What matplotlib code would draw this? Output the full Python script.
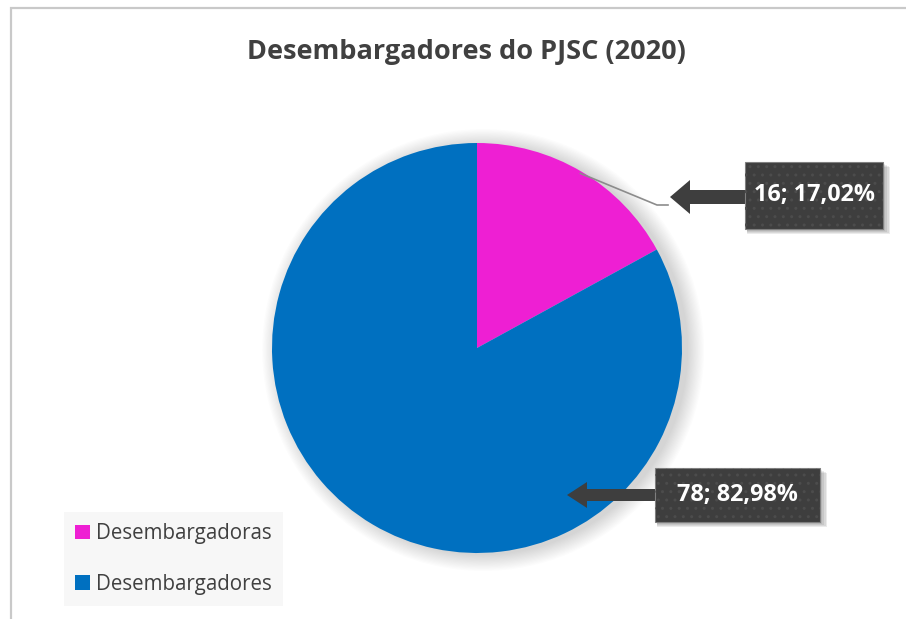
import numpy as np
import matplotlib
matplotlib.use("Agg")
import matplotlib.pyplot as plt
from matplotlib.patches import Rectangle, Polygon, Circle, Patch

# data
categories = ["Desembargadoras", "Desembargadores"]
counts = [16, 78]
percent_labels = ["16; 17,02%", "78; 82,98%"]
colors = ["#EE1FD3", "#0070C0"]
title = "Desembargadores do PJSC (2020)"

W, H = 906, 619
fig = plt.figure(figsize=(W / 100, H / 100), dpi=100)
fig.patch.set_facecolor("white")

# chart frame (only top/left edges visible)
fig.add_artist(Rectangle((11 / W, -0.1), 1.2, 1 - 8 / H + 0.1,
                         transform=fig.transFigure, facecolor="white",
                         edgecolor="#C9C9C9", linewidth=1.6, zorder=-5))

# pie axes: center (477, 348) px, radius 205 px
cx, cy, r = 477, 348, 205
ax = fig.add_axes([(cx - r) / W, (H - cy - r) / H, 2 * r / W, 2 * r / H])
ax.patch.set_visible(False)

# soft shadow behind the pie
for i in range(14):
    ax.add_patch(Circle((0.03, -0.01), 1.0 + i * 0.006, facecolor="black",
                        alpha=0.012, edgecolor="none", zorder=0, clip_on=False))

wedges, _ = ax.pie(counts, colors=colors, startangle=90, counterclock=False,
                   wedgeprops=dict(linewidth=0))
for w in wedges:
    w.set_clip_on(False)
    w.set_zorder(2)
ax.set_xlim(-1, 1)
ax.set_ylim(-1, 1)
ax.set_aspect("equal")
ax.axis("off")


def px(x, y):
    # pixel (from top-left) to pie data units
    return (x - cx) / r, (cy - y) / r


def callout(text, box, tip, head_len, head_hw, shaft_hw, fs):
    x0, y0, x1, y1 = box
    bx0, by1 = px(x0, y0)
    bx1, by0 = px(x1, y1)
    tx, ty = px(*tip)
    s = 4 / r
    # shadow
    for k in range(4):
        ax.add_patch(Rectangle((bx0 + s * 0.6, by0 - s * 0.6 - k * 0.004),
                               bx1 - bx0 + k * 0.008, by1 - by0,
                               facecolor="black", alpha=0.08, edgecolor="none",
                               zorder=4, clip_on=False))
    hl = head_len / r
    hh = head_hw / r
    sh = shaft_hw / r
    arrow = Polygon([(tx, ty), (tx + hl, ty + hh), (tx + hl, ty + sh),
                     (bx0, ty + sh), (bx0, ty - sh), (tx + hl, ty - sh),
                     (tx + hl, ty - hh)], closed=True,
                    facecolor="#3E3E3E", edgecolor="none", zorder=5,
                    clip_on=False)
    ax.add_patch(arrow)
    ax.add_patch(Rectangle((bx0, by0), bx1 - bx0, by1 - by0,
                           facecolor="#3E3E3E", edgecolor="#808080",
                           linewidth=0.8, zorder=5, clip_on=False))
    # faint dotted texture like the Excel label fill
    ax.add_patch(Rectangle((bx0, by0), bx1 - bx0, by1 - by0,
                           facecolor="none", edgecolor="#4C4C4C", hatch="..",
                           linewidth=0, zorder=5.5, clip_on=False))
    ax.text((bx0 + bx1) / 2, (by0 + by1) / 2, text, color="white",
            fontsize=fs, fontweight="bold", family="Open Sans",
            ha="center", va="center", zorder=6)


# leader line for the small slice
mid = np.deg2rad(90 - 360 * counts[0] / sum(counts) / 2)
lx, ly = px(657, 205)
ax.plot([np.cos(mid) * 0.99, lx, px(668, 205)[0]], [np.sin(mid) * 0.99, ly, ly],
        color="#8C8C8C", linewidth=1.2, zorder=3, clip_on=False)

callout(percent_labels[0], (745, 162, 883, 229), (670, 197), 20, 17, 7, 16.8)
callout(percent_labels[1], (655, 468, 820, 522), (567, 495), 20, 13, 6, 16.8)

# title
fig.text(466 / W, 1 - 52 / H, title, ha="center", va="center",
         fontsize=19.5, fontweight="bold", color="#404040", family="Open Sans")

# legend
handles = [Patch(facecolor=c, edgecolor="none", label=l)
           for c, l in zip(colors, categories)]
leg = fig.legend(handles=handles, loc="lower left",
                 bbox_to_anchor=(64 / W, 1 - 606 / H), frameon=True,
                 fancybox=False, facecolor="#F7F7F7", edgecolor="none",
                 framealpha=1, handlelength=0.7, handleheight=0.7,
                 handletextpad=0.3, labelspacing=1.45, borderpad=0.55,
                 borderaxespad=0,
                 prop={"family": "Open Sans", "size": 14.8})
for t in leg.get_texts():
    t.set_color("#404040")

fig.savefig("out.png", dpi=100)
